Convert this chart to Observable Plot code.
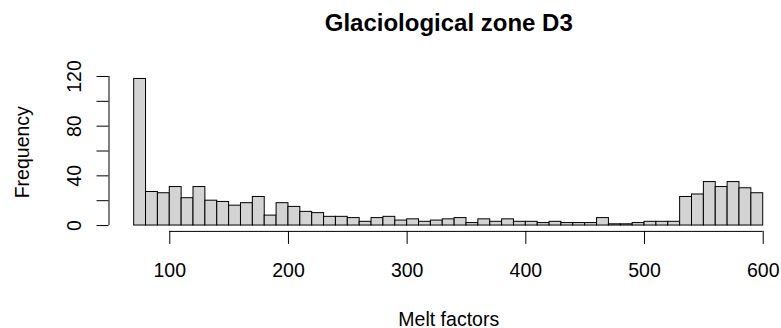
<!DOCTYPE html>
<html>
<head>
<meta charset="utf-8">
<script src="https://cdn.jsdelivr.net/npm/d3@7"></script>
<script src="https://cdn.jsdelivr.net/npm/@observablehq/plot@0.6"></script>
<style>
  html, body { margin: 0; padding: 0; background: #ffffff; }
  #chart svg { display: block; }
</style>
</head>
<body>
<div id="chart"></div>
<script>
const title = "Glaciological zone D3";
const xLabel = "Melt factors";
const yLabel = "Frequency";

const binStart = [70, 80, 90, 100, 110, 120, 130, 140, 150, 160,
                  170, 180, 190, 200, 210, 220, 230, 240, 250, 260,
                  270, 280, 290, 300, 310, 320, 330, 340, 350, 360,
                  370, 380, 390, 400, 410, 420, 430, 440, 450, 460,
                  470, 480, 490, 500, 510, 520, 530, 540, 550, 560,
                  570, 580, 590];
const binWidth = 10;
const counts = [118, 27, 26, 31, 22, 31, 20, 19, 16, 18,
                23, 8, 18, 15, 11, 10, 7, 7, 6, 3,
                6, 7, 4, 5, 3, 4, 5, 6, 2, 5,
                3, 5, 3, 3, 2, 3, 2, 2, 2, 6,
                1, 1, 2, 3, 3, 3, 23, 25, 35, 31,
                35, 30, 26];

const xTicks = [100, 200, 300, 400, 500, 600];
const yTicks = [0, 20, 40, 60, 80, 100, 120];
const yTickLabels = [0, 40, 80, 120];

const xDomain = [48.8, 615.4];
const yDomain = [-4.72, 122.72];

const bins = binStart.map((s, i) => ({x1: s, x2: s + binWidth, count: counts[i]}));

const font = "'Liberation Sans', Arial, Helvetica, sans-serif";

const chart = Plot.plot({
  width: 781,
  height: 328,
  marginLeft: 108.5,
  marginRight: 0,
  marginTop: 72.6,
  marginBottom: 97.1,
  x: {domain: xDomain, label: null},
  y: {domain: yDomain, label: null},
  style: {fontFamily: font, fontSize: "19.5px", color: "#000", background: "#fff"},
  marks: [
    Plot.rectY(bins, {x1: "x1", x2: "x2", y1: 0, y2: "count", fill: "#d3d3d3", stroke: "#000", strokeWidth: 1}),
    // axis lines (R style: from first to last tick)
    Plot.ruleY([yDomain[0]], {x1: xTicks[0], x2: xTicks[xTicks.length - 1], stroke: "#000", strokeWidth: 1}),
    Plot.ruleX([xDomain[0]], {y1: yTicks[0], y2: yTicks[yTicks.length - 1], stroke: "#000", strokeWidth: 1}),
    // ticks
    Plot.axisX({ticks: xTicks, tickSize: 13, tickFormat: () => "", stroke: "#000", label: null}),
    Plot.axisY({ticks: yTicks, tickSize: 12, tickFormat: () => "", stroke: "#000", label: null}),
    // tick labels
    Plot.text(xTicks, {x: d => d, frameAnchor: "bottom", dy: 46, lineAnchor: "bottom", text: d => String(d), fontSize: 19.5, fill: "#000"}),
    Plot.text(yTickLabels, {y: d => d, frameAnchor: "left", dx: -28.5, rotate: -90, textAnchor: "middle", lineAnchor: "bottom", text: d => String(d), fontSize: 19.5, fill: "#000"}),
    // axis titles
    Plot.text([xLabel], {frameAnchor: "bottom", dx: 3.5, dy: 94.1, lineAnchor: "bottom", text: d => d, fontSize: 19.5, fill: "#000"}),
    Plot.text([yLabel], {frameAnchor: "left", dx: -80.5, rotate: -90, textAnchor: "middle", lineAnchor: "bottom", text: d => d, fontSize: 19.5, fill: "#000"}),
    // main title
    Plot.text([title], {frameAnchor: "top", dx: 3.5, dy: -42.6, lineAnchor: "bottom", text: d => d, fontSize: 24, fontWeight: "bold", fill: "#000"})
  ]
});

document.getElementById("chart").appendChild(chart);
</script>
</body>
</html>
